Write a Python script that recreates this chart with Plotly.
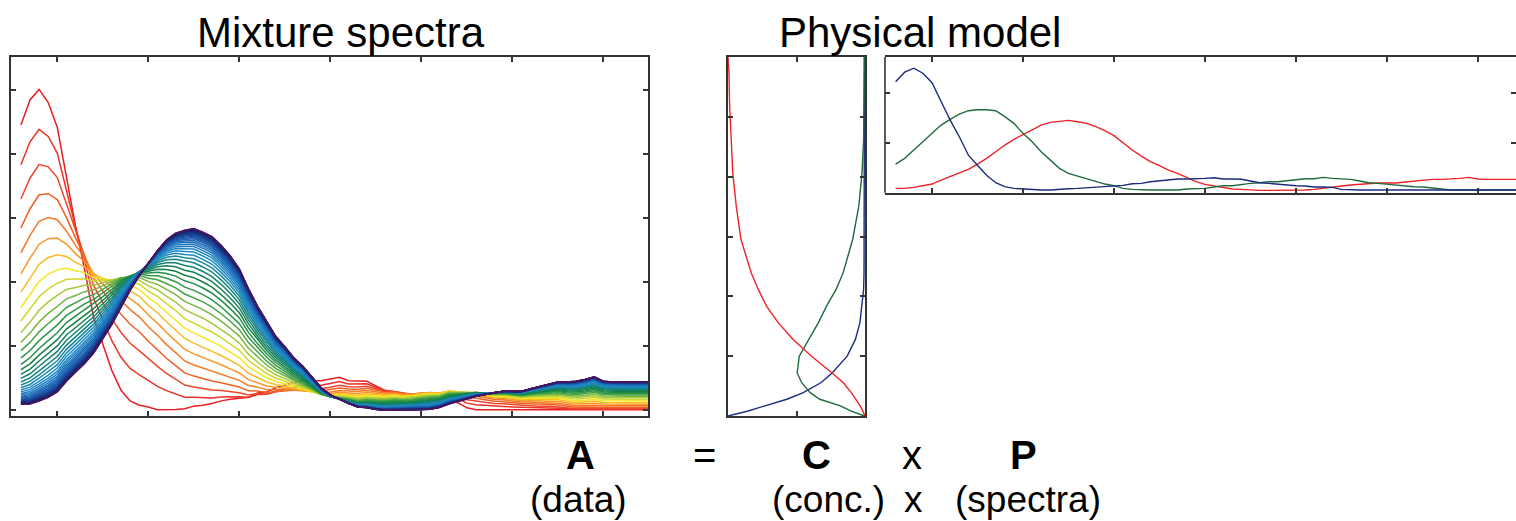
import plotly.graph_objects as go
import plotly.colors as pc

W, H = 1516, 521

# ---------------- data ----------------
# wavelength index (shared x of mixture spectra and pure spectra)
wavelength = list(range(6, 76))

# Pure-component spectra (right panel "P")
spec_blue = [2.22, 2.41, 2.49, 2.39, 2.20, 1.82, 1.45, 1.12, 0.75, 0.55,
             0.35, 0.20, 0.12, 0.087, 0.073, 0.053, 0.053, 0.055, 0.06, 0.08,
             0.087, 0.10, 0.12, 0.133, 0.14, 0.147, 0.18, 0.187, 0.22, 0.24,
             0.26, 0.273, 0.273, 0.273, 0.287, 0.30, 0.273, 0.273, 0.27, 0.233,
             0.20, 0.187, 0.167, 0.147, 0.14, 0.133, 0.113, 0.113, 0.107, 0.067,
             0.053, 0.053, 0.053, 0.053, 0.053, 0.053, 0.053, 0.053, 0.053, 0.053,
             0.053, 0.053, 0.053, 0.053, 0.053, 0.053, 0.053, 0.053, 0.053, 0.053]
spec_green = [0.573, 0.687, 0.853, 1.02, 1.173, 1.353, 1.467, 1.573, 1.64, 1.66,
              1.66, 1.64, 1.52, 1.387, 1.187, 1.02, 0.82, 0.653, 0.487, 0.387,
              0.333, 0.267, 0.22, 0.173, 0.14, 0.087, 0.067, 0.053, 0.053, 0.053,
              0.053, 0.053, 0.073, 0.073, 0.087, 0.113, 0.14, 0.14, 0.167, 0.187,
              0.20, 0.22, 0.22, 0.24, 0.267, 0.28, 0.28, 0.307, 0.287, 0.273,
              0.267, 0.233, 0.20, 0.187, 0.167, 0.147, 0.14, 0.12, 0.113, 0.10,
              0.073, 0.053, 0.053, 0.053, 0.053, 0.053, 0.053, 0.053, 0.053, 0.053]
spec_red = [0.087, 0.087, 0.107, 0.133, 0.173, 0.253, 0.32, 0.387, 0.467, 0.573,
            0.687, 0.82, 0.953, 1.067, 1.167, 1.267, 1.353, 1.407, 1.433, 1.447,
            1.42, 1.387, 1.32, 1.24, 1.14, 0.987, 0.853, 0.733, 0.62, 0.54,
            0.453, 0.387, 0.30, 0.22, 0.167, 0.133, 0.10, 0.073, 0.067, 0.053,
            0.047, 0.047, 0.047, 0.047, 0.05, 0.053, 0.067, 0.093, 0.113, 0.133,
            0.153, 0.167, 0.18, 0.193, 0.193, 0.193, 0.213, 0.233, 0.247, 0.267,
            0.267, 0.273, 0.287, 0.307, 0.273, 0.267, 0.267, 0.267, 0.267, 0.267]

# Amounts of each component in each recorded mixture spectrum (one value per curve)
amount_blue = [1.0, 0.819, 0.670, 0.549, 0.449, 0.368, 0.301, 0.247, 0.202, 0.165,
               0.135, 0.111, 0.091, 0.074, 0.061, 0.050, 0.041, 0.033, 0.027, 0.022,
               0.018, 0.015, 0.012, 0.010, 0.008, 0.007, 0.006, 0.005, 0.004, 0.003,
               0.003, 0.002, 0.002, 0.001, 0.001, 0.001, 0.001, 0.001, 0.001, 0.0, 0.0]
amount_green = [0.0, 0.170, 0.288, 0.366, 0.415, 0.440, 0.449, 0.445, 0.433, 0.415,
                0.392, 0.367, 0.341, 0.315, 0.289, 0.264, 0.240, 0.218, 0.197, 0.178,
                0.160, 0.143, 0.129, 0.115, 0.103, 0.092, 0.081, 0.073, 0.065, 0.057,
                0.051, 0.045, 0.040, 0.035, 0.031, 0.028, 0.025, 0.021, 0.019, 0.017, 0.015]
amount_red = [0.0, 0.011, 0.042, 0.085, 0.136, 0.192, 0.250, 0.308, 0.365, 0.420,
              0.473, 0.522, 0.568, 0.611, 0.650, 0.686, 0.719, 0.749, 0.776, 0.800,
              0.822, 0.842, 0.859, 0.875, 0.889, 0.901, 0.913, 0.922, 0.931, 0.940,
              0.946, 0.953, 0.958, 0.964, 0.968, 0.971, 0.974, 0.978, 0.980, 0.983, 0.985]
absorb_scale = 0.41
absorb_baseline = -0.02

# Concentration profiles (middle panel "C"): time runs vertically
conc_time = [6.0, 5.73, 5.18, 4.62, 4.06, 3.51, 2.95, 2.39, 2.12, 1.84,
             1.56, 1.28, 1.0, 0.72, 0.56, 0.39, 0.28, 0.17, 0.08, 0.0]
conc_red = [0.0, 0.007, 0.012, 0.022, 0.035, 0.06, 0.095, 0.17, 0.22, 0.28,
            0.366, 0.475, 0.61, 0.76, 0.84, 0.90, 0.935, 0.965, 0.985, 1.0]
conc_green = [0.995, 0.995, 0.994, 0.99, 0.978, 0.955, 0.91, 0.84, 0.79, 0.72,
              0.66, 0.59, 0.52, 0.505, 0.537, 0.60, 0.67, 0.82, 0.90, 0.995]
conc_blue = [0.996, 0.996, 0.996, 0.996, 0.996, 0.996, 0.995, 0.993, 0.99, 0.975,
             0.963, 0.93, 0.87, 0.76, 0.68, 0.55, 0.43, 0.27, 0.14, 0.0]

# ---------------- styles ----------------
RED, GREEN, BLUE = "#ee2226", "#1f6b3c", "#1c2b7e"
FRAME = "#333333"
rainbow = [
    [0.0, "rgb(230,30,35)"], [0.05, "rgb(238,70,40)"], [0.10, "rgb(245,120,35)"],
    [0.14, "rgb(250,170,40)"], [0.175, "rgb(245,230,25)"], [0.22, "rgb(175,205,55)"],
    [0.28, "rgb(60,160,70)"], [0.35, "rgb(20,130,70)"], [0.42, "rgb(20,130,130)"],
    [0.50, "rgb(30,140,200)"], [0.64, "rgb(30,100,180)"], [0.78, "rgb(25,60,140)"],
    [0.92, "rgb(25,35,100)"], [1.0, "rgb(75,20,100)"],
]

fig = go.Figure()

n_curves = len(amount_blue)
colors = pc.sample_colorscale(rainbow, [i / (n_curves - 1) for i in range(n_curves)])
for i in range(n_curves):
    y = [absorb_scale * (amount_blue[i] * b + amount_green[i] * g + amount_red[i] * r) + absorb_baseline
         for b, g, r in zip(spec_blue, spec_green, spec_red)]
    fig.add_trace(go.Scatter(x=wavelength, y=y, mode="lines",
                             line=dict(color=colors[i], width=1.5),
                             xaxis="x", yaxis="y", showlegend=False, hoverinfo="skip"))

for vals, col in [(conc_blue, BLUE), (conc_green, GREEN), (conc_red, RED)]:
    fig.add_trace(go.Scatter(x=vals, y=conc_time, mode="lines",
                             line=dict(color=col, width=1.4),
                             xaxis="x2", yaxis="y2", showlegend=False, hoverinfo="skip"))

for vals, col in [(spec_red, RED), (spec_green, GREEN), (spec_blue, BLUE)]:
    fig.add_trace(go.Scatter(x=wavelength, y=vals, mode="lines",
                             line=dict(color=col, width=1.4),
                             xaxis="x3", yaxis="y3", showlegend=False, hoverinfo="skip"))


def axis(domain, rng, tickvals, anchor, line=True):
    return dict(domain=domain, range=rng, tickvals=tickvals, showticklabels=False,
                ticks="inside", ticklen=5, tickwidth=1.5, tickcolor=FRAME,
                showline=line, linecolor=FRAME, linewidth=1.6, mirror="ticks",
                showgrid=False, zeroline=False, anchor=anchor, fixedrange=True)


def px(v):
    return v / W


def py(v):
    return 1 - v / H


fig.update_layout(
    width=W, height=H, autosize=False,
    margin=dict(l=0, r=0, t=0, b=0),
    paper_bgcolor="white", plot_bgcolor="white",
    font=dict(family="Liberation Sans, Arial, sans-serif", color="black"),
    xaxis=axis([px(11), px(648)], [4.91, 74.91], [10, 20, 30, 40, 50, 60, 70], "y"),
    yaxis=axis([py(416), py(57)], [-0.018, 1.102], [0, 0.2, 0.4, 0.6, 0.8, 1.0], "x"),
    xaxis2=axis([px(728), px(865)], [0, 1], [0.5], "y2"),
    yaxis2=axis([py(416), py(57)], [0, 6], [1, 2, 3, 4, 5], "x2"),
    xaxis3=axis([px(885), 1.0], [4.835, 74.18], [10, 20, 30, 40, 50, 60, 70], "y3"),
    yaxis3=axis([py(192.7), py(57)], [0, 2.714], [0, 1, 2], "x3", line=False),
)
# left spine of the spectra panel (its right spine lies just outside the picture)
fig.add_shape(type="line", xref="paper", yref="paper",
              x0=px(885), x1=px(885), y0=py(192.7), y1=py(57),
              line=dict(color=FRAME, width=1.6))

texts = [
    ("Mixture spectra", 341, 33, 42, False),
    ("Physical model", 920, 33, 42, False),
    ("A", 580, 455, 40, True),
    ("=", 704, 455, 40, False),
    ("C", 816, 455, 40, True),
    ("x", 912, 455, 40, False),
    ("P", 1023, 455, 40, True),
    ("(data)", 578, 499, 37, False),
    ("(conc.)", 828, 499, 37, False),
    ("x", 913, 499, 37, False),
    ("(spectra)", 1028, 499, 37, False),
]
for t, x, y, s, bold in texts:
    fig.add_annotation(text=f"<b>{t}</b>" if bold else t, xref="paper", yref="paper",
                       x=px(x), y=py(y), xanchor="center", yanchor="middle",
                       showarrow=False, font=dict(size=s, color="black"))

fig.write_html("out.html")
